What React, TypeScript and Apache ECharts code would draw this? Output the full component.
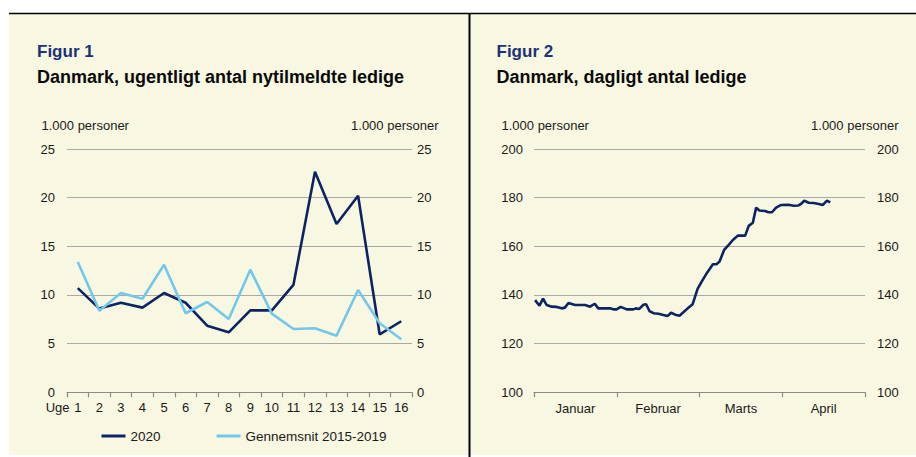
import React, { useEffect, useRef } from "react";
import * as echarts from "echarts";

const weeks = ["1", "2", "3", "4", "5", "6", "7", "8", "9", "10", "11", "12", "13", "14", "15", "16"];
const y2020 = [10.7, 8.6, 9.2, 8.7, 10.2, 9.2, 6.85, 6.16, 8.42, 8.42, 11.03, 22.67, 17.29, 20.2, 5.96, 7.3];
const avg1519 = [13.39, 8.39, 10.2, 9.62, 13.1, 8.12, 9.28, 7.53, 12.6, 8.08, 6.5, 6.58, 5.82, 10.51, 7.09, 5.45];
const weekTicks = [0, 5, 10, 15, 20, 25];

const months = ["Januar", "Februar", "Marts", "April"];
const dayIdx = [0.4, 2, 3.3, 4.6, 6.5, 8.3, 10.1, 11.3, 12.6, 15, 18.7, 20.5, 22.2, 23.5, 27.8, 29, 30.2, 31.7, 33.9, 36.3, 37.2, 38.4, 40, 41, 42.2, 43.7, 45.5, 47.3, 48.9, 50.1, 51.6, 53.2, 54.9, 56.2, 58, 59.8, 61.3, 62.9, 65.4, 66.8, 67.8, 69.5, 71.1, 72.7, 74.5, 77.2, 78.5, 80, 81.2, 82.4, 84.5, 85.7, 87, 88.5, 90.4, 93, 94.9, 96.7, 97.6, 98.8, 100.4, 102.2, 103.7, 105.6, 107.1, 108.3];
const ledige = [137.9, 135.6, 138.5, 135.9, 135.2, 135.1, 134.5, 134.8, 136.7, 135.9, 135.9, 135.2, 136.4, 134.5, 134.5, 134.1, 134.1, 135.1, 134.1, 134.1, 134.5, 134.2, 136, 136.2, 133.4, 132.5, 132.3, 131.8, 131.4, 132.7, 131.9, 131.5, 133.2, 134.5, 136.2, 142.5, 145.5, 148.5, 152.6, 152.7, 153.7, 158.5, 160.5, 162.6, 164.4, 164.4, 168.4, 169.7, 175.9, 174.7, 174.5, 174, 174, 175.9, 177, 177.1, 176.7, 176.8, 177.4, 178.8, 177.9, 177.8, 177.5, 177, 178.8, 178.1];
const dayTicks = [100, 120, 140, 160, 180, 200];

const FONT = '"Liberation Sans", Arial, Helvetica, sans-serif';
const TXT = "#1a1a1a";
const NAVY = "#0d2464";
const LIGHT = "#72c8ec";
const GRID = "#a9a9a9";
const AXIS = "#8a8a8a";

export default function App() {
  const ref = useRef<HTMLDivElement>(null);
  useEffect(() => {
    if (!ref.current) return;
    const chart = echarts.init(ref.current, undefined, { renderer: "svg" });
    const yBase = (grid: number, min: number, max: number, pos: "left" | "right", margin: number, split: boolean) => ({
      type: "value",
      gridIndex: grid,
      position: pos,
      min,
      max,
      interval: (max - min) / 5,
      axisLine: { show: false },
      axisTick: { show: false },
      splitLine: { show: split, lineStyle: { color: GRID, width: 1.2 } },
      axisLabel: { margin, color: TXT, fontSize: 13, fontFamily: FONT },
    });
    const catBase = (grid: number, data: string[], margin: number) => ({
      type: "category",
      gridIndex: grid,
      data,
      boundaryGap: true,
      axisLine: { lineStyle: { color: AXIS, width: 1.2 } },
      axisTick: { show: true, length: 5, interval: 0, lineStyle: { color: AXIS, width: 1.2 } },
      axisLabel: { margin, interval: 0, color: TXT, fontSize: 13, fontFamily: FONT },
    });
    const txt = (x: number, y: number, text: string, size: number, opts: any = {}) => ({
      type: "text",
      x,
      y,
      style: {
        text,
        fontSize: size,
        fontFamily: FONT,
        fill: opts.fill || TXT,
        fontWeight: opts.bold ? "bold" : "normal",
        align: opts.align || "left",
        verticalAlign: "middle",
      },
      z: 10,
    });
    chart.setOption({
      animation: false,
      backgroundColor: "#ffffff",
      graphic: [
        { type: "rect", shape: { x: 9, y: 14, width: 907, height: 441 }, style: { fill: "#f8f7e1" }, z: -10 },
        { type: "line", shape: { x1: 9, y1: 13.5, x2: 916, y2: 13.5 }, style: { stroke: "#000", lineWidth: 1.5 }, z: 5 },
        { type: "line", shape: { x1: 469.5, y1: 13, x2: 469.5, y2: 457 }, style: { stroke: "#000", lineWidth: 2 }, z: 5 },
        txt(37, 51, "Figur 1", 17, { bold: true, fill: "#1b3277" }),
        txt(37, 76.5, "Danmark, ugentligt antal nytilmeldte ledige", 18, { bold: true, fill: "#0a0a0a" }),
        txt(41.5, 125.5, "1.000 personer", 13),
        txt(438.5, 125.5, "1.000 personer", 13, { align: "right" }),
        txt(69.5, 407, "Uge", 13, { align: "right" }),
        txt(496.5, 51, "Figur 2", 17, { bold: true, fill: "#1b3277" }),
        txt(496.5, 76.5, "Danmark, dagligt antal ledige", 18, { bold: true, fill: "#0a0a0a" }),
        txt(501.5, 125.5, "1.000 personer", 13),
        txt(898.5, 125.5, "1.000 personer", 13, { align: "right" }),
      ],
      legend: {
        show: true,
        data: ["2020", "Gennemsnit 2015-2019"],
        left: 101.5,
        top: 429,
        padding: 0,
        icon: "rect",
        itemWidth: 24,
        itemHeight: 3,
        itemGap: 56,
        textStyle: { color: TXT, fontSize: 13.5, fontFamily: FONT },
      },
      grid: [
        { left: 67, top: 149, width: 345, height: 243.3, containLabel: false },
        { left: 534, top: 149, width: 331, height: 243.3, containLabel: false },
      ],
      xAxis: [
        catBase(0, weeks, 9),
        catBase(1, months, 10),
        { type: "value", gridIndex: 1, min: 0, max: 121, show: false, splitLine: { show: false } },
      ],
      yAxis: [
        yBase(0, weekTicks[0], weekTicks[weekTicks.length - 1], "left", 12, true),
        yBase(0, weekTicks[0], weekTicks[weekTicks.length - 1], "right", 5, false),
        yBase(1, dayTicks[0], dayTicks[dayTicks.length - 1], "left", 11, true),
        yBase(1, dayTicks[0], dayTicks[dayTicks.length - 1], "right", 12, false),
      ],
      series: [
        {
          name: "2020",
          type: "line",
          xAxisIndex: 0,
          yAxisIndex: 0,
          data: y2020,
          showSymbol: false,
          symbol: "none",
          lineStyle: { color: NAVY, width: 2.6 },
          itemStyle: { color: NAVY },
        },
        {
          name: "Gennemsnit 2015-2019",
          type: "line",
          xAxisIndex: 0,
          yAxisIndex: 0,
          data: avg1519,
          showSymbol: false,
          symbol: "none",
          lineStyle: { color: LIGHT, width: 2.6 },
          itemStyle: { color: LIGHT },
        },
        {
          name: "Ledige",
          type: "line",
          xAxisIndex: 2,
          yAxisIndex: 2,
          data: dayIdx.map((d, i) => [d, ledige[i]]),
          showSymbol: false,
          symbol: "none",
          lineStyle: { color: NAVY, width: 2.6 },
          itemStyle: { color: NAVY },
        },
      ],
    });
    return () => chart.dispose();
  }, []);
  return <div ref={ref} style={{ position: "absolute", left: 0, top: 0, width: 916, height: 457 }} />;
}
